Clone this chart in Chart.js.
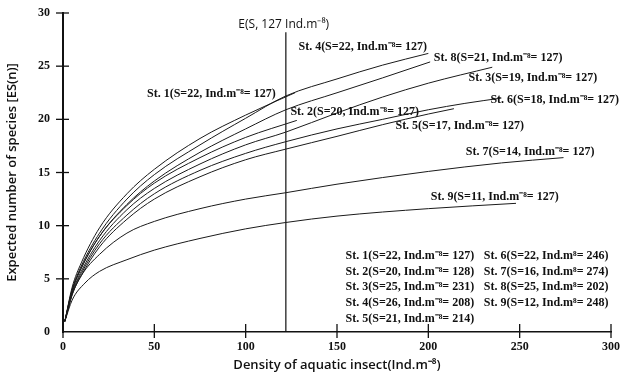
<!DOCTYPE html>
<html>
<head>
<meta charset="utf-8">
<script src="https://cdn.jsdelivr.net/npm/chart.js@4.4.0/dist/chart.umd.min.js"></script>
<style>
  html, body { margin: 0; padding: 0; background: #fff; }
  #wrap { width: 622px; height: 376px; }
</style>
</head>
<body>
<div id="wrap"><canvas id="esChart" width="622" height="376"></canvas></div>
<script>
// Rarefaction curves E(S) per station
const stationNames = ['St. 1', 'St. 2', 'St. 3', 'St. 4', 'St. 5', 'St. 6', 'St. 7', 'St. 8', 'St. 9'];

const st1Density = [1, 5, 10, 20, 35, 50, 75, 100, 127];
const st1Species = [1, 4.2, 6.5, 9.8, 13, 15.3, 18.2, 20.4, 22.5];

const st2Density = [1, 5, 10, 20, 35, 50, 75, 100, 128];
const st2Species = [1, 3.9, 6, 9, 11.9, 14, 16.4, 18.3, 19.9];

const st3Density = [1, 5, 10, 20, 35, 50, 75, 100, 122, 150, 175, 200, 235];
const st3Species = [1, 3.7, 5.7, 8.6, 11.5, 13.5, 15.8, 17.6, 18.8, 20.6, 22.1, 23.4, 24.9];

const st4Density = [1, 5, 10, 20, 35, 50, 75, 100, 122, 150, 175, 200];
const st4Species = [1, 4, 6.2, 9.3, 12.5, 14.8, 17.6, 20.1, 22.2, 23.8, 25.1, 26.2];

const st5Density = [1, 5, 10, 20, 35, 50, 75, 100, 122, 150, 175, 200, 214];
const st5Species = [1, 3.5, 5.3, 8, 10.6, 12.5, 14.6, 16.2, 17.2, 18.4, 19.5, 20.5, 21];

const st6Density = [1, 5, 10, 20, 35, 50, 75, 100, 122, 150, 175, 200, 220, 240];
const st6Species = [1, 3.6, 5.5, 8.3, 11, 13, 15.2, 16.8, 17.9, 19.1, 20, 20.9, 21.5, 22];

const st7Density = [1, 5, 10, 20, 35, 50, 75, 100, 122, 150, 200, 240, 274];
const st7Species = [1, 3.5, 5.3, 7.3, 9.3, 10.4, 11.6, 12.5, 13.1, 13.9, 15.1, 15.9, 16.4];

const st8Density = [1, 5, 10, 20, 35, 50, 75, 100, 122, 150, 175, 201];
const st8Species = [1, 3.9, 6, 9, 12, 14.2, 16.9, 19.1, 20.9, 22.5, 23.9, 25.4];

const st9Density = [1, 5, 12, 20, 35, 50, 75, 100, 122, 150, 200, 248];
const st9Species = [1, 3, 4.6, 5.7, 6.8, 7.7, 8.8, 9.7, 10.3, 10.9, 11.6, 12.1];

// E(S, 127) reference line
const refDensity = [122, 122];
const refSpecies = [0, 28.2];

const curveLabels = [
  'E(S, 127 Ind.m⁻⁸)',
  'St. 4(S=22, Ind.m⁻⁸= 127)',
  'St. 8(S=21, Ind.m⁻⁸= 127)',
  'St. 3(S=19, Ind.m⁻⁸= 127)',
  'St. 1(S=22, Ind.m⁻⁸= 127)',
  'St. 6(S=18, Ind.m⁻⁸= 127)',
  'St. 2(S=20, Ind.m⁻⁸= 127)',
  'St. 5(S=17, Ind.m⁻⁸= 127)',
  'St. 7(S=14, Ind.m⁻⁸= 127)',
  'St. 9(S=11, Ind.m⁻⁸= 127)'
];

const summaryLeft = [
  'St. 1(S=22, Ind.m⁻⁸= 127)',
  'St. 2(S=20, Ind.m⁻⁸= 128)',
  'St. 3(S=25, Ind.m⁻⁸= 231)',
  'St. 4(S=26, Ind.m⁻⁸= 208)',
  'St. 5(S=21, Ind.m⁻⁸= 214)'
];
const summaryRight = [
  'St. 6(S=22, Ind.m⁸= 246)',
  'St. 7(S=16, Ind.m⁸= 274)',
  'St. 8(S=25, Ind.m⁸= 202)',
  'St. 9(S=12, Ind.m⁸= 248)'
];

const stationDensity = [st1Density, st2Density, st3Density, st4Density, st5Density, st6Density, st7Density, st8Density, st9Density];
const stationSpecies = [st1Species, st2Species, st3Species, st4Species, st5Species, st6Species, st7Species, st8Species, st9Species];

function toPoints(xs, ys) {
  return xs.map((x, i) => ({ x: x, y: ys[i] }));
}

const datasets = stationNames.map((name, i) => ({
  label: name,
  data: toPoints(stationDensity[i], stationSpecies[i]),
  borderColor: '#1a1a1a',
  borderWidth: 1,
  pointRadius: 0,
  cubicInterpolationMode: 'monotone',
  fill: false
}));
datasets.push({
  label: 'E(S,127)',
  data: toPoints(refDensity, refSpecies),
  borderColor: '#111',
  borderWidth: 1.2,
  pointRadius: 0,
  tension: 0
});

// where the texts sit, in data units
const labelAnchors = [
  [96, 28.9], [128.9, 26.8], [203, 25.8], [222, 23.9], [46, 22.4],
  [234, 21.8], [124.5, 20.7], [182, 19.4], [220.5, 16.9], [201.3, 12.7]
];
const summaryRows = [7.15, 5.64, 4.23, 2.73, 1.22];
const summaryCols = [154.7, 230.4];

const textPlugin = {
  id: 'textPlugin',
  afterDraw(chart) {
    const ctx = chart.ctx;
    const xs = chart.scales.x, ys = chart.scales.y;
    ctx.save();
    ctx.fillStyle = '#111';
    ctx.textBaseline = 'middle';
    ctx.textAlign = 'left';

    // crossing tick marks
    ctx.strokeStyle = '#111';
    ctx.lineWidth = 1.3;
    [0, 50, 100, 150, 200, 250, 300].forEach(v => {
      const px = xs.getPixelForValue(v);
      ctx.beginPath();
      ctx.moveTo(px, ys.bottom - 8);
      ctx.lineTo(px, ys.bottom + 6);
      ctx.stroke();
    });
    [5, 10, 15, 20, 25, 30].forEach(v => {
      const py = ys.getPixelForValue(v);
      ctx.beginPath();
      ctx.moveTo(xs.left - 7, py);
      ctx.lineTo(xs.left + 6, py);
      ctx.stroke();
    });

    curveLabels.forEach((t, i) => {
      const a = labelAnchors[i];
      ctx.font = i === 0 ? '12px "Open Sans"' : 'bold 12px "Liberation Serif"';
      ctx.fillText(t, xs.getPixelForValue(a[0]), ys.getPixelForValue(a[1]));
    });

    ctx.font = 'bold 12px "Liberation Serif"';
    summaryLeft.forEach((t, i) => {
      ctx.fillText(t, xs.getPixelForValue(summaryCols[0]), ys.getPixelForValue(summaryRows[i]));
    });
    summaryRight.forEach((t, i) => {
      ctx.fillText(t, xs.getPixelForValue(summaryCols[1]), ys.getPixelForValue(summaryRows[i]));
    });
    ctx.restore();
  }
};

new Chart(document.getElementById('esChart'), {
  type: 'line',
  data: { datasets: datasets },
  options: {
    responsive: false,
    animation: false,
    devicePixelRatio: 1,
    layout: { padding: { top: 13, right: 11, left: 0, bottom: 0 } },
    plugins: {
      legend: { display: false },
      tooltip: { enabled: false }
    },
    scales: {
      x: {
        type: 'linear',
        min: 0,
        max: 300,
        afterFit(scale) {
          scale.height = 44;
          scale.paddingLeft = 0;
          scale.paddingRight = 0;
        },
        border: { display: true, color: '#111', width: 1.5 },
        grid: { display: true, drawOnChartArea: false, drawTicks: false },
        ticks: {
          stepSize: 50,
          padding: 8,
          color: '#111',
          font: { family: '"Liberation Serif"', size: 12, weight: 'bold' }
        },
        title: {
          display: true,
          text: 'Density of aquatic insect(Ind.m⁻⁸)',
          color: '#111',
          padding: { top: 2, bottom: 3 },
          font: { family: '"Open Sans"', size: 13, weight: '600' }
        }
      },
      y: {
        min: 0,
        max: 30,
        afterFit(scale) {
          scale.width = 63;
          scale.paddingTop = 0;
          scale.paddingBottom = 0;
        },
        border: { display: true, color: '#111', width: 2 },
        grid: { display: true, drawOnChartArea: false, drawTicks: false },
        ticks: {
          stepSize: 5,
          padding: 13,
          color: '#111',
          font: { family: '"Liberation Serif"', size: 12, weight: 'bold' }
        },
        title: {
          display: true,
          text: 'Expected number of species [ES(n)]',
          color: '#111',
          padding: { top: 4, bottom: 0 },
          font: { family: '"Open Sans"', size: 13, weight: '600' }
        }
      }
    }
  },
  plugins: [textPlugin]
});
</script>
</body>
</html>
